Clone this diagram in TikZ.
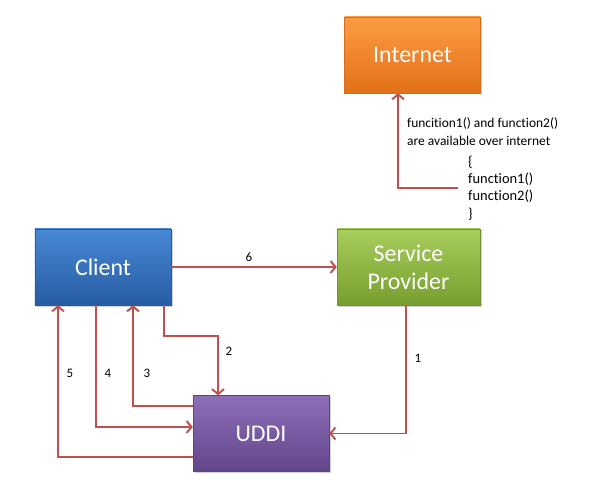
\documentclass[tikz,border=0pt]{standalone}
\usepackage{fontspec}
\setmainfont{Carlito}[Ligatures=NoCommon]
\usepackage{xcolor}
\usepackage{tikz}
\usetikzlibrary{positioning,arrows.meta,shadows}
\definecolor{linkred}{RGB}{192,80,77}
\tikzset{
  every overlay node/.style={}
}

\begin{document}
\begin{tikzpicture}[x=1bp,y=-1bp,
		box/.style = {rectangle, minimum width=136bp, minimum height=76bp, align=center, inner sep=0pt,
			text=white, font=\fontsize{24}{28}\selectfont, drop shadow={shadow xshift=1.5bp, shadow yshift=-1.5bp, opacity=0.35}},
		link/.style = {line width=1.9bp, draw=linkred, -{Straight Barb[length=5bp,width=12bp,line width=1.9bp]}},
		num/.style = {font=\fontsize{13}{15}\selectfont, inner sep=1pt}]
	\fill[white] (0,0) rectangle (591,485);
	\useasboundingbox (0,0) rectangle (591,485);

	\node[box, top color={rgb,255:red,252;green,156;blue,68}, bottom color={rgb,255:red,226;green,112;blue,24}, draw={rgb,255:red,214;green,110;blue,30}] (inet) at (412.5, 55) {Internet};
	\node[box, top color={rgb,255:red,72;green,136;blue,212}, bottom color={rgb,255:red,38;green,92;blue,162}, draw={rgb,255:red,40;green,90;blue,150}] (client) at (103, 267) {Client};
	\node[box, minimum width=143bp, top color={rgb,255:red,168;green,206;blue,92}, bottom color={rgb,255:red,118;green,158;blue,46}, draw={rgb,255:red,112;green,146;blue,50}] (prov) at (408.5, 267) {Service\\Provider};
	\node[box, top color={rgb,255:red,142;green,110;blue,186}, bottom color={rgb,255:red,98;green,70;blue,138}, draw={rgb,255:red,92;green,68;blue,128}] (uddi) at (261, 433.5) {UDDI};

	\node[anchor=west, align=left, inner sep=0pt, font=\fontsize{13.5}{18}\selectfont] (avail) at (407, 132) {funcition1() and function2()\\are available over internet};
	\node[anchor=west, align=left, inner sep=0pt, font=\fontsize{14.5}{17.5}\selectfont] (code) at (468, 188) {\{\\function1()\\function2()\\\}};

	\node[num] (n1) at (418, 358) {1};
	\node[num] (n2) at (229, 351) {2};
	\node[num] (n3) at (147, 373) {3};
	\node[num] (n4) at (108, 373) {4};
	\node[num] (n5) at (70, 373) {5};
	\node[num] (n6) at (249, 257) {6};

	\draw[link] ([xshift=-10bp]code.west) -| ([xshift=-14.5bp]inet.south);

	\draw[link] (client.east) to (prov.west);

	\draw[link] (prov.south -| 406,0) |- (uddi.east);
	\draw[link] (client.south -| 164,0) |- (218,336) -- (uddi.north -| 218,0);
	\draw[link] (uddi.west |- 0,406) -| (client.south -| 133,0);
	\draw[link] (client.south -| 96,0) |- (uddi.west |- 0,427);
	\draw[link] (uddi.west |- 0,457) -| (client.south -| 58,0);
\end{tikzpicture}
\end{document}
